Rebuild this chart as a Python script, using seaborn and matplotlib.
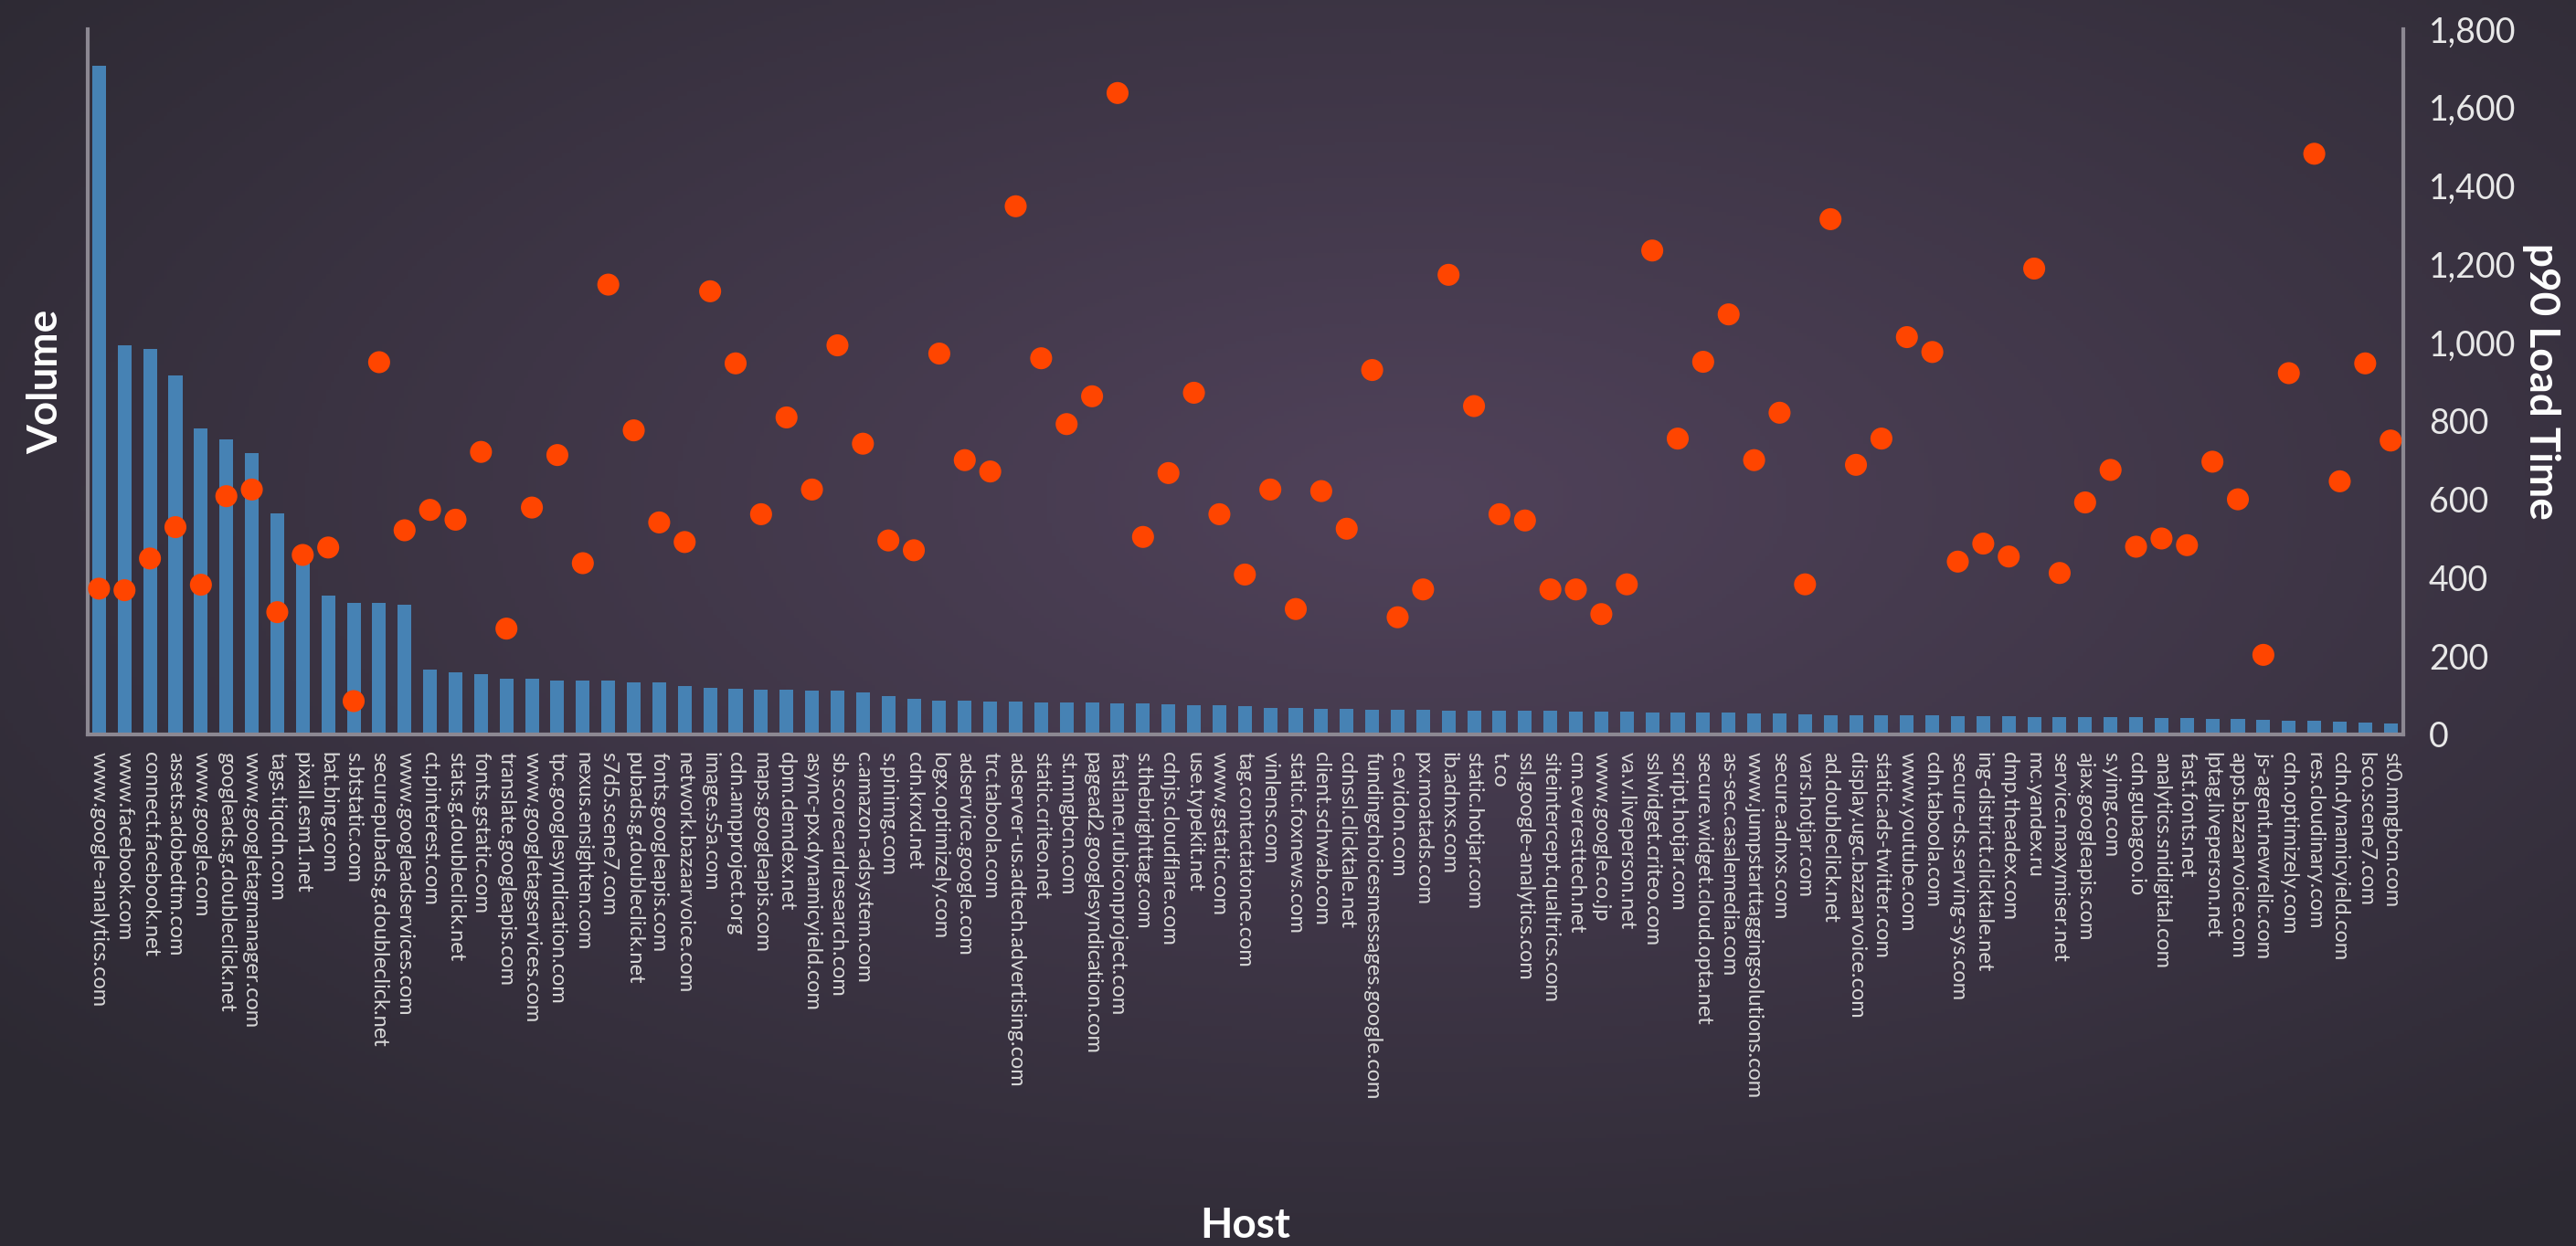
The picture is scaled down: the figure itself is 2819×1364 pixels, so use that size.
import numpy as np
import pandas as pd
import matplotlib
matplotlib.use("Agg")
import matplotlib.pyplot as plt
import seaborn as sns

# Dados
hosts = [
    "www.google-analytics.com", "www.facebook.com", "connect.facebook.net", "assets.adobedtm.com",
    "www.google.com", "googleads.g.doubleclick.net", "www.googletagmanager.com", "tags.tiqcdn.com",
    "pixall.esm1.net", "bat.bing.com", "s.btstatic.com", "securepubads.g.doubleclick.net",
    "www.googleadservices.com", "ct.pinterest.com", "stats.g.doubleclick.net", "fonts.gstatic.com",
    "translate.googleapis.com", "www.googletagservices.com", "tpc.googlesyndication.com",
    "nexus.ensighten.com", "s7d5.scene7.com", "pubads.g.doubleclick.net", "fonts.googleapis.com",
    "network.bazaarvoice.com", "image.s5a.com", "cdn.ampproject.org", "maps.googleapis.com",
    "dpm.demdex.net", "async-px.dynamicyield.com", "sb.scorecardresearch.com",
    "c.amazon-adsystem.com", "s.pinimg.com", "cdn.krxd.net", "logx.optimizely.com",
    "adservice.google.com", "trc.taboola.com", "adserver-us.adtech.advertising.com",
    "static.criteo.net", "st.mngbcn.com", "pagead2.googlesyndication.com",
    "fastlane.rubiconproject.com", "s.thebrighttag.com", "cdnjs.cloudflare.com", "use.typekit.net",
    "www.gstatic.com", "tag.contactatonce.com", "vinlens.com", "static.foxnews.com",
    "client.schwab.com", "cdnssl.clicktale.net", "fundingchoicesmessages.google.com",
    "c.evidon.com", "px.moatads.com", "ib.adnxs.com", "static.hotjar.com", "t.co",
    "ssl.google-analytics.com", "siteintercept.qualtrics.com", "cm.everesttech.net",
    "www.google.co.jp", "va.v.liveperson.net", "sslwidget.criteo.com", "script.hotjar.com",
    "secure.widget.cloud.opta.net", "as-sec.casalemedia.com", "www.jumpstarttaggingsolutions.com",
    "secure.adnxs.com", "vars.hotjar.com", "ad.doubleclick.net", "display.ugc.bazaarvoice.com",
    "static.ads-twitter.com", "www.youtube.com", "cdn.taboola.com", "secure-ds.serving-sys.com",
    "ing-district.clicktale.net", "dmp.theadex.com", "mc.yandex.ru", "service.maxymiser.net",
    "ajax.googleapis.com", "s.yimg.com", "cdn.gubagoo.io", "analytics.snidigital.com",
    "fast.fonts.net", "lptag.liveperson.net", "apps.bazaarvoice.com", "js-agent.newrelic.com",
    "cdn.optimizely.com", "res.cloudinary.com", "cdn.dynamicyield.com", "lsco.scene7.com",
    "st0.mngbcn.com",
]

volume = [
    1707, 992, 983, 917, 782, 754, 718, 564, 440, 354, 336, 336, 331,
    165, 158, 154, 142, 142, 137, 137, 137, 133, 133, 124, 119, 117, 114, 114, 112, 112, 107,
    98, 91, 86, 86, 84, 84, 82, 82, 82, 79, 79, 77, 75, 75, 72, 68, 68, 65, 65, 63,
    63, 63, 61, 61, 61, 61, 61, 58, 58, 58, 56, 56, 56, 56, 54, 54, 51, 49, 49, 49,
    48, 48, 47, 46, 46, 45, 44, 44, 43, 43, 42, 41, 40, 39, 38, 36, 35, 33, 31, 29,
]

load_time = [
    372, 368, 449, 529, 382, 608, 625, 312, 458, 477,
    85, 950, 521, 573, 548, 721, 270, 579, 713, 437,
    1148, 776, 541, 491, 1131, 947, 562, 809, 625, 993,
    742, 495, 470, 972, 700, 671, 1348, 960, 792, 863,
    1637, 504, 667, 872, 562, 408, 625, 320, 621, 525,
    930, 299, 370, 1173, 838, 562, 546, 370, 370, 307,
    383, 1235, 755, 951, 1072, 700, 821, 383, 1315, 688,
    755, 1014, 976, 441, 487, 454, 1189, 412, 592, 675,
    479, 500, 483, 696, 600, 203, 922, 1482, 646, 947, 750,
]

df = pd.DataFrame({"host": hosts, "volume": volume, "load": load_time})

sns.set_theme(style="dark")
plt.rcParams["font.family"] = ["Lato", "DejaVu Sans"]

fig = plt.figure(figsize=(28.19, 13.64), dpi=100)
fig.patch.set_facecolor("#332e3a")

# fundo com gradiente radial
bg = fig.add_axes([0, 0, 1, 1], zorder=-10)
yy, xx = np.mgrid[0:1:300j, 0:1:600j]
r = np.sqrt(((xx - 0.55) / 0.72) ** 2 + ((yy - 0.40) / 0.72) ** 2)
r = np.clip(r, 0, 1)
c_in = np.array([0x50, 0x42, 0x5a]) / 255
c_out = np.array([0x2c, 0x29, 0x32]) / 255
img = c_in[None, None, :] * (1 - r[..., None]) + c_out[None, None, :] * r[..., None]
bg.imshow(img, aspect="auto", extent=[0, 1, 0, 1], origin="upper")
bg.axis("off")

ax = fig.add_axes([0.034, 0.4106, 0.899, 0.566])
ax.set_facecolor("none")
sns.barplot(data=df, x="host", y="volume", color="#4682b4", saturation=1,
            width=0.54, linewidth=0, ax=ax)
ax.set_xlim(-0.45, 90.5)
ax.set_ylim(0, 1800)
ax.set_yticks([])
ax.set_xlabel("Host", fontsize=33, fontweight="bold", color="white")
ax.xaxis.set_label_coords(0.5, -0.67)
ax.set_ylabel("Volume", fontsize=33, fontweight="bold", color="white", labelpad=18)
ax.tick_params(axis="x", labelrotation=270, labelsize=17, colors="#d8d8d8", length=0, pad=14)
for s in ["top", "right"]:
    ax.spines[s].set_visible(False)
for s in ["left", "bottom"]:
    ax.spines[s].set_color("#8c8892")
    ax.spines[s].set_linewidth(3)

ax2 = ax.twinx()
sns.scatterplot(data=df, x="host", y="load", color="#ff4500", s=300, edgecolor="none", ax=ax2, zorder=5)
ax2.set_ylim(0, 1800)
ax2.set_yticks(range(0, 1801, 200))
ax2.set_yticklabels([f"{v:,}" for v in range(0, 1801, 200)])
ax2.tick_params(axis="y", labelsize=27, colors="#e8e8e8", length=0, pad=20)
ax2.set_ylabel("p90 Load Time", fontsize=33, fontweight="bold", color="white", rotation=270)
ax2.yaxis.set_label_coords(1.068, 0.5)
for s in ["top", "left", "bottom"]:
    ax2.spines[s].set_visible(False)
ax2.spines["right"].set_color("#8c8892")
ax2.spines["right"].set_linewidth(3)
ax2.grid(False)
ax.grid(False)

fig.savefig("out.png", dpi=100, facecolor=fig.get_facecolor())
